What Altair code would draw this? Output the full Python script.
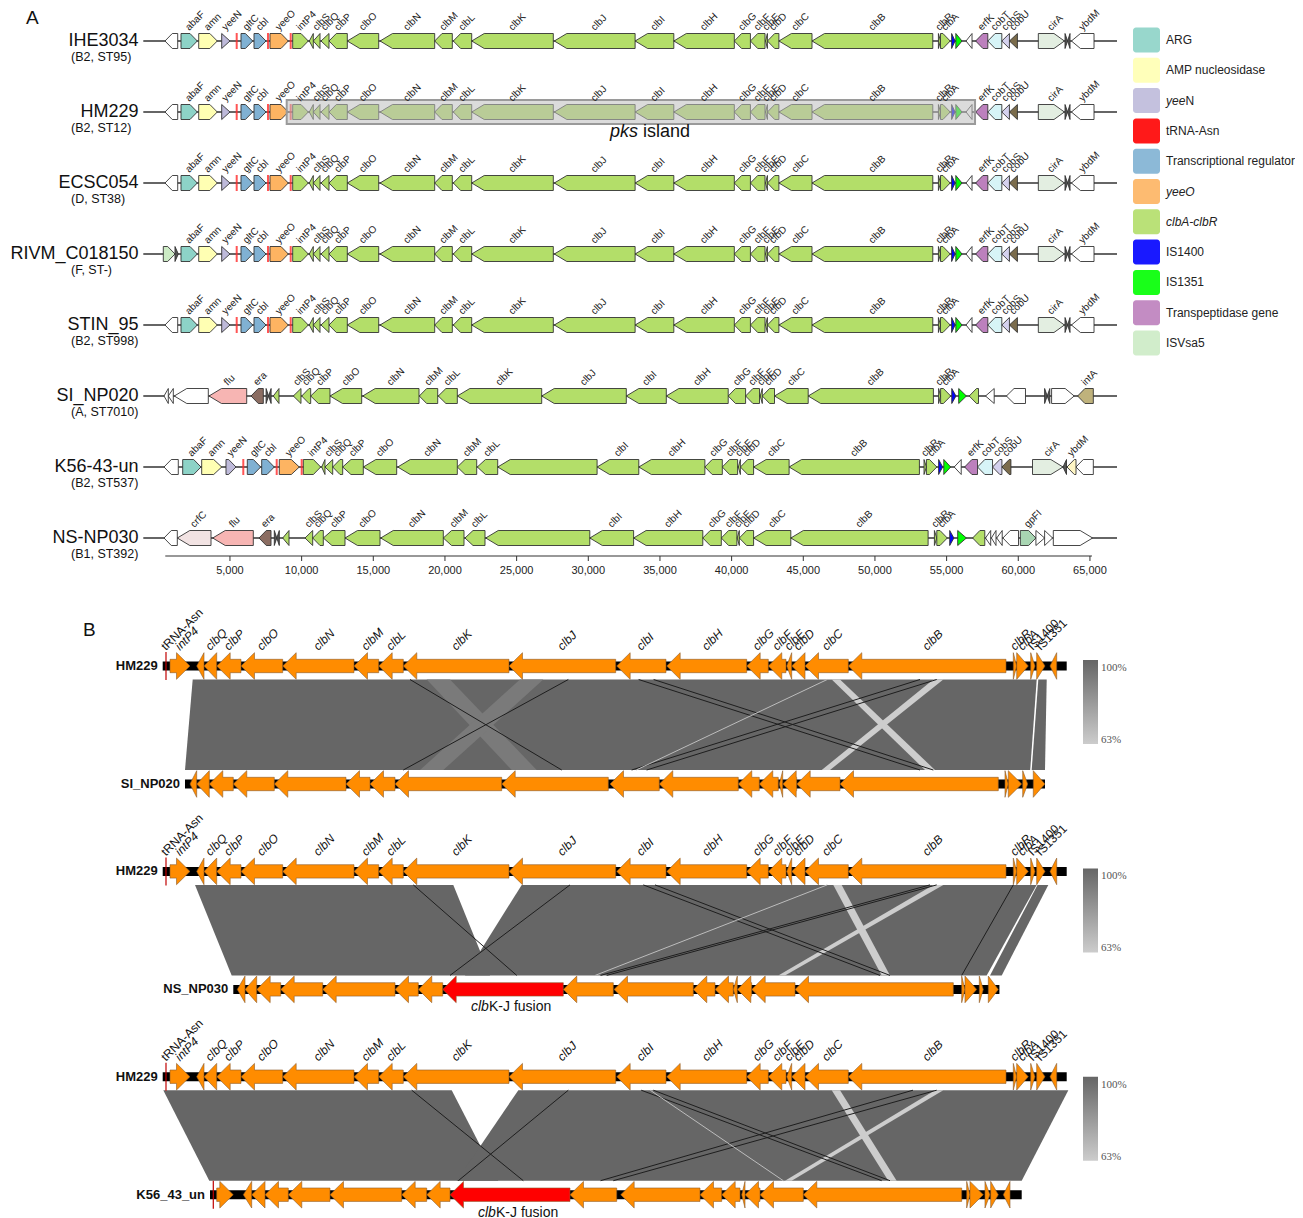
import altair as alt
import pandas as pd

alt.data_transformers.disable_max_rows()

# ===================== DATA : panel A (bp coordinates) =====================
GENOME_NAMES = ["IHE3034", "HM229", "ECSC054", "RIVM_C018150", "STIN_95",
                "SI_NP020", "K56-43-un", "NS-NP030"]
GENOME_TYPES = ["(B2, ST95)", "(B2, ST12)", "(D, ST38)", "(F, ST-)",
                "(B2, ST998)", "(A, ST7010)", "(B2, ST537)", "(B1, ST392)"]

CLB = "clbA-clbR"
TR = "Transcriptional regulator"
TP = "Transpeptidase gene"

# (label, start, end, strand, category)
LEAD_DEFAULT = [("", 467, 1354, "-", "other")]
LEAD_RIVM = [("", 349, 1165, "+", "ISVsa5"), ("", 1165, 1395, "+", "dark")]

PKS_REGION = [
    ("abaF", 1584, 2721, "+", "ARG"), ("amn", 2819, 4116, "+", "AMP nucleosidase"),
    ("yeeN", 4423, 5002, "+", "yeeN"), ("gltC", 5770, 6587, "+", TR),
    ("cbl", 6677, 7514, "+", TR), ("yeeO", 7793, 9070, "+", "yeeO"),
    ("intP4", 9377, 10466, "+", CLB), ("", 10535, 10814, "-", CLB),
    ("clbS", 10814, 11282, "-", CLB), ("clbQ", 11352, 11910, "-", CLB),
    ("clbP", 11910, 13187, "-", CLB), ("clbO", 13187, 15378, "-", CLB),
    ("clbN", 15469, 19284, "-", CLB), ("clbM", 19284, 20512, "-", CLB),
    ("clbL", 20582, 21866, "-", CLB), ("clbK", 21866, 27559, "-", CLB),
    ("clbJ", 27629, 33267, "-", CLB), ("clbI", 33267, 35967, "-", CLB),
    ("clbH", 35967, 40188, "-", CLB), ("clbG", 40188, 41311, "-", CLB),
    ("clbF", 41311, 42330, "-", CLB), ("clbE", 42365, 42497, "-", CLB),
    ("clbD", 42497, 43299, "-", CLB), ("clbC", 43299, 45609, "-", CLB),
    ("clbB", 45609, 54037, "-", CLB), ("clbR", 54428, 54574, "+", CLB),
    ("clbA", 54574, 55251, "+", CLB), ("", 55349, 55593, "+", "IS1400"),
    ("", 55642, 56074, "+", "IS1351"), ("", 56354, 56773, "-", "other"),
    ("erfK", 57024, 57875, "-", TP), ("cobT", 57875, 58852, "-", "cobT"),
    ("cobS", 58852, 59382, "-", "cobS"), ("cobU", 59382, 59940, "-", "cobU"),
    ("cirA", 61398, 63219, "+", "cirA"), ("", 63261, 63440, "+", "dark"),
    ("", 63440, 63610, "-", "dark"), ("ybdM", 63708, 65285, "-", "other"),
]

SI_NP020_REGION = [
    ("", 398, 698, "-", "other"), ("", 698, 1047, "-", "other"),
    ("", 1116, 3489, "-", "other"), ("flu", 3537, 6168, "-", "flu"),
    ("era", 6468, 7326, "-", "era"), ("", 7521, 7696, "+", "dark"),
    ("", 7696, 7870, "-", "dark"), ("", 8023, 8421, "-", CLB),
    ("clbS", 9419, 9956, "-", CLB), ("clbQ", 10005, 10633, "-", CLB),
    ("clbP", 10633, 11979, "-", CLB), ("clbO", 11979, 14191, "-", CLB),
    ("clbN", 14261, 18189, "-", CLB), ("clbM", 18210, 19494, "-", CLB),
    ("clbL", 19536, 20862, "-", CLB), ("clbK", 20862, 26750, "-", CLB),
    ("clbJ", 26750, 32652, "-", CLB), ("clbI", 32652, 35443, "-", CLB),
    ("clbH", 35443, 39762, "-", CLB), ("clbG", 39762, 40976, "-", CLB),
    ("clbF", 40976, 41946, "-", CLB), ("clbE", 41995, 42141, "-", CLB),
    ("clbD", 42141, 42992, "-", CLB), ("clbC", 42992, 45343, "-", CLB),
    ("clbB", 45343, 54078, "-", CLB), ("clbR", 54441, 54581, "+", CLB),
    ("clbA", 54581, 55286, "+", CLB), ("", 55360, 55653, "+", "IS1400"),
    ("", 55844, 56381, "+", "IS1351"), ("", 56576, 57225, "-", CLB),
    ("", 57713, 58320, "-", "other"), ("", 59171, 60503, "-", "other"),
    ("", 61837, 62018, "+", "dark"), ("", 62018, 62200, "-", "dark"),
    ("", 62325, 63902, "+", "other"), ("intA", 64140, 65235, "-", "intA"),
]

K56_REGION = [
    ("", 398, 1395, "-", "other"), ("abaF", 1702, 2979, "+", "ARG"),
    ("amn", 3028, 4423, "+", "AMP nucleosidase"), ("yeeN", 4723, 5421, "+", "yeeN"),
    ("gltC", 6210, 7144, "+", TR), ("cbl", 7214, 8093, "+", TR),
    ("yeeO", 8442, 9838, "+", "yeeO"), ("intP4", 10117, 11330, "+", CLB),
    ("", 11400, 11630, "-", CLB), ("clbS", 11630, 12168, "-", CLB),
    ("clbQ", 12168, 12865, "-", CLB), ("clbP", 12865, 14303, "-", CLB),
    ("clbO", 14303, 16633, "-", CLB), ("clbN", 16703, 20862, "-", CLB),
    ("clbM", 20862, 22215, "-", CLB), ("clbL", 22257, 23680, "-", CLB),
    ("", 23680, 30615, "-", CLB), ("clbI", 30615, 33524, "-", CLB),
    ("clbH", 33524, 38136, "-", CLB), ("clbG", 38136, 39350, "-", CLB),
    ("clbF", 39350, 40418, "-", CLB), ("clbE", 40467, 40613, "-", CLB),
    ("clbD", 40613, 41534, "-", CLB), ("clbC", 41534, 44011, "-", CLB),
    ("clbB", 44011, 53102, "-", CLB), ("clbR", 53424, 53591, "+", CLB),
    ("clbA", 53591, 54317, "+", CLB), ("", 54442, 54728, "+", "IS1400"),
    ("", 54804, 55285, "+", "IS1351"), ("", 55530, 56018, "-", "other"),
    ("erfK", 56256, 57156, "-", TP), ("cobT", 57156, 58203, "-", "cobT"),
    ("cobS", 58203, 58858, "-", "cobS"), ("cobU", 58858, 59486, "-", "cobU"),
    ("cirA", 60993, 63121, "+", "cirA"), ("", 63121, 63365, "-", "dark"),
    ("ybdM", 63400, 64028, "-", "ybdM"), ("", 64028, 65235, "-", "other"),
]

NS_NP030_REGION = [
    ("", 398, 1326, "-", "other"), ("crfC", 1326, 3677, "-", "crfC"),
    ("flu", 3795, 6628, "-", "flu"), ("era", 7026, 7863, "-", "era"),
    ("", 8093, 8268, "+", "dark"), ("", 8268, 8442, "-", "dark"),
    ("", 8679, 9119, "-", CLB), ("clbS", 10235, 10772, "-", CLB),
    ("clbQ", 10772, 11512, "-", CLB), ("clbP", 11512, 13026, "-", CLB),
    ("clbO", 13026, 15468, "-", CLB), ("clbN", 15517, 19884, "-", CLB),
    ("clbM", 19884, 21329, "-", CLB), ("clbL", 21398, 22794, "-", CLB),
    ("", 22843, 30106, "-", CLB), ("clbI", 30106, 33162, "-", CLB),
    ("clbH", 33162, 37990, "-", CLB), ("clbG", 37990, 39281, "-", CLB),
    ("clbF", 39281, 40369, "-", CLB), ("clbE", 40390, 40537, "-", CLB),
    ("clbD", 40537, 41534, "-", CLB), ("clbC", 41534, 44130, "-", CLB),
    ("clbB", 44130, 53709, "-", CLB), ("clbR", 54148, 54316, "+", CLB),
    ("clbA", 54316, 55048, "+", CLB), ("", 55216, 55509, "+", "IS1400"),
    ("", 55774, 56381, "+", "IS1351"), ("", 56813, 57664, "-", CLB),
    ("", 57713, 58076, "-", "other"), ("", 58125, 58446, "-", "other"),
    ("", 58495, 58879, "-", "other"), ("", 58928, 60016, "-", "other"),
    ("gpFI", 60142, 61230, "+", "gpFI"), ("", 61230, 61837, "+", "other"),
    ("", 61837, 62395, "+", "other"), ("", 62444, 65186, "+", "other"),
]

TRNA_STANDARD = [5470, 7654, 9238]
TRNA_K56 = [5930, 8261, 10005]
TRACK_SPAN = (-1047, 66890)
PKS_ISLAND = (8958, 56983)
PKS_LABEL_AT = 31515
AXIS_SPAN = (486, 65139)
AXIS_TICKS = [5000, 10000, 15000, 20000, 25000, 30000, 35000, 40000, 45000,
              50000, 55000, 60000, 65000]

LEGEND_CATS = ["ARG", "AMP nucleosidase", "yeeN", "tRNA-Asn", TR, "yeeO", CLB,
               "IS1400", "IS1351", TP, "ISVsa5"]
LEGEND_COLORS = ["#8dd3c7", "#ffffb3", "#bebada", "#ff0000", "#80b1d3", "#fdb462",
                 "#b3de69", "#0000ff", "#00ff00", "#bc80bd", "#ccebc5"]
LEGEND_ITALIC = ["", "", "yee", "", "", "yeeO", "clbA-clbR", "", "", "", ""]
LEGEND_PLAIN = ["ARG", "AMP nucleosidase", "N", "tRNA-Asn", "Transcriptional regulator",
                "", "", "IS1400", "IS1351", "Transpeptidase gene", "ISVsa5"]
OTHER_CATS = ["other", "dark", "flu", "era", "crfC", "cobT", "cobS", "cobU",
              "intA", "gpFI", "cirA", "ybdM"]
OTHER_COLORS = ["#ffffff", "#555555", "#f7b5b3", "#8b6d62", "#f2e3e3", "#d7f4f7",
                "#d4d1ee", "#7b6c4c", "#bfb27c", "#a8d5b2", "#e3eee1", "#fff6c4"]

# ===================== DATA : panel B (bp along the pks island) =====================
B_HM229 = [
    ("intP4", 390, 1458, "+", "gene"), ("", 1816, 2206, "-", "gene"),
    ("clbQ", 2206, 2885, "-", "gene"), ("clbP", 2885, 4183, "-", "gene"),
    ("clbO", 4183, 6410, "-", "gene"), ("clbN", 6410, 10219, "-", "gene"),
    ("clbM", 10219, 11539, "-", "gene"), ("clbL", 11539, 12853, "-", "gene"),
    ("clbK", 12853, 18499, "-", "gene"), ("clbJ", 18499, 24199, "-", "gene"),
    ("clbI", 24252, 26886, "-", "gene"), ("clbH", 26924, 31197, "-", "gene"),
    ("clbG", 31197, 32351, "-", "gene"), ("clbF", 32351, 33297, "-", "gene"),
    ("clbE", 33334, 33601, "-", "gene"), ("clbD", 33601, 34312, "-", "gene"),
    ("clbC", 34312, 36625, "-", "gene"), ("clbB", 36625, 45049, "-", "gene"),
    ("clbR", 45439, 45621, "+", "gene"), ("clbA", 45621, 46241, "+", "gene"),
    ("IS1400", 46369, 46598, "+", "gene"), ("IS1351", 46689, 47132, "+", "gene"),
    ("", 47399, 47757, "-", "gene"),
]
B_SI_NP020 = [
    ("", 1458, 1816, "-", "gene"), ("", 1816, 2489, "-", "gene"),
    ("", 2489, 3771, "-", "gene"), ("", 3771, 5962, "-", "gene"),
    ("", 5962, 9792, "-", "gene"), ("", 9792, 11074, "-", "gene"),
    ("", 11074, 12410, "-", "gene"), ("", 12410, 18110, "-", "gene"),
    ("", 18110, 23804, "-", "gene"), ("", 23895, 26528, "-", "gene"),
    ("", 26528, 30748, "-", "gene"), ("", 30748, 31870, "-", "gene"),
    ("", 31870, 32885, "-", "gene"), ("", 32939, 33121, "-", "gene"),
    ("", 33121, 33869, "-", "gene"), ("", 33869, 36182, "-", "gene"),
    ("", 36182, 44638, "-", "gene"), ("", 44996, 45172, "+", "gene"),
    ("", 45172, 45888, "+", "gene"), ("", 45942, 46209, "+", "gene"),
    ("", 46507, 47132, "+", "gene"),
]
B_NS_NP030 = [
    ("", 3985, 4396, "-", "gene"), ("", 4396, 5021, "-", "gene"),
    ("", 5021, 6304, "-", "gene"), ("", 6304, 8547, "-", "gene"),
    ("", 8547, 12410, "-", "gene"), ("", 12410, 13654, "-", "gene"),
    ("", 13654, 14958, "-", "gene"), ("", 14958, 21400, "-", "fusion"),
    ("", 21400, 24071, "-", "gene"), ("", 24109, 28345, "-", "gene"),
    ("", 28345, 29504, "-", "gene"), ("", 29504, 30482, "-", "gene"),
    ("", 30482, 30696, "-", "gene"), ("", 30696, 31465, "-", "gene"),
    ("", 31465, 33778, "-", "gene"), ("", 33778, 42234, "-", "gene"),
    ("", 42682, 42858, "+", "gene"), ("", 42858, 43484, "+", "gene"),
    ("", 43623, 43836, "+", "gene"), ("", 44104, 44638, "+", "gene"),
]
B_K56 = [
    ("", 2885, 3771, "+", "gene"), ("", 4306, 4754, "-", "gene"),
    ("", 4754, 5465, "-", "gene"), ("", 5465, 6710, "-", "gene"),
    ("", 6710, 8937, "-", "gene"), ("", 8937, 12767, "-", "gene"),
    ("", 12767, 14103, "-", "gene"), ("", 14103, 15348, "-", "gene"),
    ("", 15348, 21758, "-", "fusion"), ("", 21758, 24253, "-", "gene"),
    ("", 24466, 28703, "-", "gene"), ("", 28703, 29862, "-", "gene"),
    ("", 29862, 30840, "-", "gene"), ("", 30930, 31107, "-", "gene"),
    ("", 31107, 31908, "-", "gene"), ("", 31908, 34221, "-", "gene"),
    ("", 34221, 42682, "-", "gene"), ("", 42949, 43126, "+", "gene"),
    ("", 43126, 43836, "+", "gene"), ("", 43926, 44193, "+", "gene"),
    ("", 44230, 44638, "+", "gene"), ("", 44905, 45263, "-", "gene"),
]
B_NAMES = ["SI_NP020", "NS_NP030", "K56_43_un"]
B_QUERY_GENES = [B_SI_NP020, B_NS_NP030, B_K56]
B_REF_TRACK = (0, 48292)
B_QUERY_TRACKS = [(1191, 47132), (3771, 44697), (2527, 45888)]
B_REF_TRNA = [176]
B_QUERY_TRNA = [[], [], [2703]]

# synteny blocks: (ref start, ref end, query start, query end, identity level)
SYN_BLOCKS = [
    [(1603, 46689, 1191, 46342, "high"), (46775, 47224, 46422, 47132, "high"),
     (14103, 15348, 18644, 19979, "mid"), (19087, 20332, 13745, 14990, "mid"),
     (35739, 36182, 40722, 41256, "low"), (41166, 41700, 35204, 35648, "low")],
    [(1726, 15524, 3686, 17485, "high"), (19178, 46689, 16149, 44018, "high"),
     (46732, 47309, 44195, 44820, "high"),
     (35824, 36272, 38409, 38852, "low"), (41166, 41700, 32885, 33243, "low")],
    [(32, 15439, 2489, 17928, "high"), (18996, 48378, 15706, 45888, "high"),
     (35739, 36182, 38762, 39210, "low"), (41256, 41700, 33243, 33601, "low")],
]
# thin matches: (ref pos, query pos, kind)
SYN_LINES = [
    [(13211, 21315, "dark"), (21668, 12853, "dark"), (25424, 40455, "dark"),
     (26225, 41165, "dark"), (40455, 25050, "dark"), (41347, 25852, "dark"),
     (35500, 25300, "pale")],
    [(45439, 42682, "dark"), (13387, 18911, "dark"), (21758, 15348, "dark"),
     (25674, 38318, "dark"), (26299, 38852, "dark"), (40989, 23390, "dark"),
     (41347, 23718, "dark"), (35500, 23100, "pale")],
    [(13302, 19264, "dark"), (21668, 15791, "dark"), (25561, 38409, "dark"),
     (26208, 38852, "dark"), (40081, 23390, "dark"), (41347, 24071, "dark"),
     (26042, 33153, "pale")],
]
IDENTITY_LABELS = ["100%", "63%"]

# ===================== LAYOUT =====================
W = 1287
HA = 590
HB = 617
A_PX_PER_BP = 0.014333
A_ORIGIN_PX = 150.3
B_PX_PER_BP = 1 / 53.42
B_ORIGIN_PX = 154.7
A_ROW0, A_ROW_STEP = 33, 71
B_REF_ROWS = [68, 273.4, 478.7]
B_PAIR_GAP = 118
FONT = "Liberation Sans"

SX_A = alt.Scale(domain=[-A_ORIGIN_PX / A_PX_PER_BP, (W - A_ORIGIN_PX) / A_PX_PER_BP],
                 nice=False, zero=False)
SY_A = alt.Scale(domain=[0, HA], reverse=True, nice=False, zero=False)
SX_B = alt.Scale(domain=[-B_ORIGIN_PX / B_PX_PER_BP, (W - B_ORIGIN_PX) / B_PX_PER_BP],
                 nice=False, zero=False)
SY_B = alt.Scale(domain=[0, HB], reverse=True, nice=False, zero=False)
COLOR_SCALE = alt.Scale(domain=LEGEND_CATS + OTHER_CATS, range=LEGEND_COLORS + OTHER_COLORS)


def X(f, s):
    return alt.X(f, type="quantitative", scale=s, axis=None)


def Y(f, s, stack=False):
    if stack:
        return alt.Y(f, type="quantitative", scale=s, axis=None, stack=None)
    return alt.Y(f, type="quantitative", scale=s, axis=None)


def pentagon(s, e, strand, ry, h=7.5):
    L = e - s
    lpx = L * A_PX_PER_BP
    head = L if lpx <= 9 else min(12.5, max(7.3, 0.4 * lpx)) / A_PX_PER_BP
    if strand == "+":
        pts = [(s, ry - h, ry + h)]
        if head < L:
            pts.append((e - head, ry - h, ry + h))
        pts.append((e, ry, ry))
    else:
        pts = [(s, ry, ry)]
        if head < L:
            pts.append((s + head, ry - h, ry + h))
        pts.append((e, ry - h, ry + h))
    return pts


def barbed(s, e, strand, ry, h=6.7, H=13.3):
    L = e - s
    head = 13.5 / B_PX_PER_BP
    eps = 1.0
    if L <= head:
        if strand == "+":
            return [(s, ry - H, ry + H), (e, ry, ry)]
        return [(s, ry, ry), (e, ry - H, ry + H)]
    if strand == "+":
        return [(s, ry - h, ry + h), (e - head, ry - h, ry + h),
                (e - head + eps, ry - H, ry + H), (e, ry, ry)]
    return [(s, ry, ry), (s + head - eps, ry - H, ry + H),
            (s + head, ry - h, ry + h), (e, ry - h, ry + h)]


# ===================== PANEL A =====================
ROW_GENES = [LEAD_DEFAULT + PKS_REGION, LEAD_DEFAULT + PKS_REGION,
             LEAD_DEFAULT + PKS_REGION, LEAD_RIVM + PKS_REGION,
             LEAD_DEFAULT + PKS_REGION, SI_NP020_REGION, K56_REGION, NS_NP030_REGION]
ROW_TRNA = [TRNA_STANDARD] * 5 + [[], TRNA_K56, []]

poly_a, lab_a, trna_a, rows_a = [], [], [], []
for i, genes in enumerate(ROW_GENES):
    ry = A_ROW0 + A_ROW_STEP * i
    rows_a.append(dict(name=GENOME_NAMES[i], sub=GENOME_TYPES[i], y=ry, ys=ry + 16,
                       x0=TRACK_SPAN[0], x1=TRACK_SPAN[1]))
    for j, (lab, s, e, strand, cat) in enumerate(genes):
        for k, (x, y0, y1) in enumerate(pentagon(s, e, strand, ry)):
            poly_a.append(dict(gid=f"a{i}_{j}", cat=cat, x=x, y0=y0, y1=y1))
        if lab:
            lab_a.append(dict(label=lab, x=(s + e) / 2, y=ry - 10))
    for t in ROW_TRNA[i]:
        trna_a.append(dict(x=t, y0=ry - 8, y1=ry + 8))

df_rows_a = pd.DataFrame(rows_a)
track_a = alt.Chart(df_rows_a).mark_rule(color="#333333", strokeWidth=1.3).encode(
    x=X("x0", SX_A), x2="x1", y=Y("y", SY_A))
genes_a = alt.Chart(pd.DataFrame(poly_a)).mark_area(
    stroke="#333333", strokeWidth=0.9, opacity=1, interpolate="linear").encode(
    x=X("x", SX_A), y=Y("y0", SY_A, stack=True), y2="y1",
    color=alt.Color("cat:N", scale=COLOR_SCALE, legend=None), detail="gid:N")
trna_layer_a = alt.Chart(pd.DataFrame(trna_a)).mark_rule(
    color="#ff2a2a", strokeWidth=2, opacity=0.8).encode(
    x=X("x", SX_A), y=Y("y0", SY_A), y2="y1")
hm_y = A_ROW0 + A_ROW_STEP * 1
pks_box = alt.Chart(pd.DataFrame([dict(x0=PKS_ISLAND[0], x1=PKS_ISLAND[1],
                                       y0=hm_y - 12, y1=hm_y + 12)])).mark_rect(
    fill="#bdbdbd", fillOpacity=0.55, stroke="#9a9a9a", strokeWidth=2).encode(
    x=X("x0", SX_A), x2="x1", y=Y("y0", SY_A), y2="y1")
pks_df = pd.DataFrame([dict(x=PKS_LABEL_AT, y=hm_y + 20)])
pks_t1 = alt.Chart(pks_df).mark_text(text="pks", fontStyle="italic", fontSize=18,
                                     align="left", baseline="middle", font=FONT,
                                     color="#111").encode(x=X("x", SX_A), y=Y("y", SY_A))
pks_t2 = alt.Chart(pks_df).mark_text(text="island", fontSize=18, dx=33,
                                     align="left", baseline="middle", font=FONT,
                                     color="#111").encode(x=X("x", SX_A), y=Y("y", SY_A))
labels_a = alt.Chart(pd.DataFrame(lab_a)).mark_text(
    angle=315, align="left", baseline="alphabetic", fontSize=10, font=FONT,
    color="#222222").encode(x=X("x", SX_A), y=Y("y", SY_A), text="label:N")
names_a = alt.Chart(df_rows_a).mark_text(
    align="right", baseline="middle", fontSize=18, font=FONT, color="#111").encode(
    x=alt.value(130.5), y=Y("y", SY_A), text="name:N")
subs_a = alt.Chart(df_rows_a).mark_text(
    align="left", baseline="middle", fontSize=12.5, font=FONT, color="#111").encode(
    x=alt.value(63), y=Y("ys", SY_A), text="sub:N")
panel_label_a = alt.Chart(pd.DataFrame([dict(t="A", y=10)])).mark_text(
    fontSize=19, font=FONT, align="left", baseline="middle", color="#111").encode(
    x=alt.value(18), y=Y("y", SY_A), text="t:N")

axis_y = A_ROW0 + A_ROW_STEP * 7 + 18
axis_line = alt.Chart(pd.DataFrame([dict(x0=AXIS_SPAN[0], x1=AXIS_SPAN[1], y=axis_y)])).mark_rule(
    color="#333333", strokeWidth=1.2).encode(x=X("x0", SX_A), x2="x1", y=Y("y", SY_A))
tick_df = pd.DataFrame(dict(x=AXIS_TICKS, lab=[f"{t:,}" for t in AXIS_TICKS],
                            y0=[axis_y] * len(AXIS_TICKS), y1=[axis_y + 5] * len(AXIS_TICKS),
                            yl=[axis_y + 15] * len(AXIS_TICKS)))
axis_ticks = alt.Chart(tick_df).mark_rule(color="#333333", strokeWidth=1).encode(
    x=X("x", SX_A), y=Y("y0", SY_A), y2="y1")
axis_labels = alt.Chart(tick_df).mark_text(fontSize=11, font=FONT, baseline="middle",
                                           color="#222").encode(
    x=X("x", SX_A), y=Y("yl", SY_A), text="lab:N")

leg_rows = []
for i, c in enumerate(LEGEND_CATS):
    yc = 32 + 30.3 * i
    leg_rows.append(dict(cat=c, y=yc, y0=yc - 12.5, y1=yc + 12.5,
                         it=LEGEND_ITALIC[i], pl=LEGEND_PLAIN[i]))
leg_df = pd.DataFrame(leg_rows)
leg_sw = alt.Chart(leg_df).mark_rect(cornerRadius=3, opacity=0.9).encode(
    x=alt.value(1125), x2=alt.value(1152), y=Y("y0", SY_A), y2="y1",
    color=alt.Color("cat:N", scale=COLOR_SCALE, legend=None))
leg_it = alt.Chart(leg_df[leg_df.it != ""]).mark_text(
    align="left", baseline="middle", fontSize=12, fontStyle="italic", font=FONT,
    color="#222").encode(x=alt.value(1158), y=Y("y", SY_A), text="it:N")
leg_pl = alt.Chart(leg_df[(leg_df.pl != "") & (leg_df.it == "")]).mark_text(
    align="left", baseline="middle", fontSize=12, font=FONT, color="#222").encode(
    x=alt.value(1158), y=Y("y", SY_A), text="pl:N")
leg_mix = alt.Chart(leg_df[(leg_df.pl != "") & (leg_df.it != "")]).mark_text(
    align="left", baseline="middle", fontSize=12, font=FONT, color="#222", dx=19.5).encode(
    x=alt.value(1158), y=Y("y", SY_A), text="pl:N")

panel_a = alt.layer(track_a, genes_a, trna_layer_a, pks_box, pks_t1, pks_t2, labels_a,
                    names_a, subs_a, panel_label_a, axis_line, axis_ticks, axis_labels,
                    leg_sw, leg_it, leg_pl, leg_mix).properties(width=W, height=HA)

# ===================== PANEL B =====================
bars_b, poly_b, lab_b, names_b, trna_b, fusion_b = [], [], [], [], [], []
syn_b, lines_b, cbar_b = [], [], []
for c in range(3):
    ry_ref = B_REF_ROWS[c]
    ry_q = ry_ref + B_PAIR_GAP
    tracks = [("HM229", B_REF_TRACK, B_HM229, B_REF_TRNA, ry_ref),
              (B_NAMES[c], B_QUERY_TRACKS[c], B_QUERY_GENES[c], B_QUERY_TRNA[c], ry_q)]
    for r, (nm, span, genes, trnas, ry) in enumerate(tracks):
        bars_b.append(dict(x0=span[0], x1=span[1], y0=ry - 4.5, y1=ry + 4.5))
        names_b.append(dict(name=nm, x=span[0], y=ry))
        for j, (lab, s, e, strand, cat) in enumerate(genes):
            for (x, y0, y1) in barbed(s, e, strand, ry):
                poly_b.append(dict(gid=f"b{c}_{r}_{j}", kind=cat, x=x, y0=y0, y1=y1))
            if lab:
                lab_b.append(dict(label=lab, x=(s + e) / 2, y=ry - 15,
                                  italic=lab.startswith(("clb", "int"))))
            if cat == "fusion":
                fusion_b.append(dict(x=(s + e) / 2, y=ry + 18))
        for t in trnas:
            trna_b.append(dict(x=t, y0=ry - 14, y1=ry + 14))
        if r == 0:
            lab_b.append(dict(label="tRNA-Asn", x=trnas[0], y=ry - 15, italic=False))
    y_top, y_bot = ry_ref + 13.5, ry_q - 14
    for k, (ts, te, qs, qe, lvl) in enumerate(SYN_BLOCKS[c]):
        syn_b.append(dict(gid=f"s{c}_{k}", lvl=lvl, y=y_top, x0=ts, x1=te))
        syn_b.append(dict(gid=f"s{c}_{k}", lvl=lvl, y=y_bot, x0=qs, x1=qe))
    for (t, q, kind) in SYN_LINES[c]:
        lines_b.append(dict(xt=t, xq=q, yt=y_top, yq=y_bot, kind=kind))
    cbar_b.append(dict(y0=ry_ref - 6 + 3 * c, y1=ry_ref + 78 + 3 * c,
                       yh=ry_ref + 2 + 3 * c, yl=ry_ref + 74 + 3 * c))

df_syn = pd.DataFrame(syn_b)
bars = alt.Chart(pd.DataFrame(bars_b)).mark_rect(color="black").encode(
    x=X("x0", SX_B), x2="x1", y=Y("y0", SY_B), y2="y1")


def syn_layer(level, color):
    return alt.Chart(df_syn[df_syn.lvl == level]).mark_area(
        orient="horizontal", color=color, opacity=1, interpolate="linear").encode(
        y=Y("y", SY_B), x=alt.X("x0", type="quantitative", scale=SX_B, axis=None, stack=None),
        x2="x1", detail="gid:N")


syn_high = syn_layer("high", "#666666")
syn_mid = syn_layer("mid", "#7a7a7a")
syn_low = syn_layer("low", "#cdcdcd")
df_lines = pd.DataFrame(lines_b)
lines_dark = alt.Chart(df_lines[df_lines.kind == "dark"]).mark_rule(
    color="#1e1e1e", strokeWidth=1).encode(
    x=X("xt", SX_B), x2="xq", y=Y("yt", SY_B), y2="yq")
lines_pale = alt.Chart(df_lines[df_lines.kind == "pale"]).mark_rule(
    color="#bdbdbd", strokeWidth=1).encode(
    x=X("xt", SX_B), x2="xq", y=Y("yt", SY_B), y2="yq")
genes_b = alt.Chart(pd.DataFrame(poly_b)).mark_area(
    stroke="#8a5a2b", strokeWidth=0.6, opacity=1, interpolate="linear").encode(
    x=X("x", SX_B), y=Y("y0", SY_B, stack=True), y2="y1",
    color=alt.Color("kind:N", scale=alt.Scale(domain=["gene", "fusion"],
                                              range=["#ff8c00", "#ff0000"]), legend=None),
    detail="gid:N")
trna_layer_b = alt.Chart(pd.DataFrame(trna_b)).mark_rule(
    color="#c00000", strokeWidth=1.2).encode(x=X("x", SX_B), y=Y("y0", SY_B), y2="y1")
df_lab_b = pd.DataFrame(lab_b)
labels_b_it = alt.Chart(df_lab_b[df_lab_b.italic]).mark_text(
    angle=315, align="left", baseline="alphabetic", fontSize=12, fontStyle="italic",
    font=FONT, color="#111").encode(x=X("x", SX_B), y=Y("y", SY_B), text="label:N")
labels_b_up = alt.Chart(df_lab_b[~df_lab_b.italic]).mark_text(
    angle=315, align="left", baseline="alphabetic", fontSize=12,
    font=FONT, color="#111").encode(x=X("x", SX_B), y=Y("y", SY_B), text="label:N")
names_layer_b = alt.Chart(pd.DataFrame(names_b)).mark_text(
    align="right", baseline="middle", fontSize=13, fontWeight="bold", font=FONT,
    dx=-5, color="#111").encode(x=X("x", SX_B), y=Y("y", SY_B), text="name:N")
df_fus = pd.DataFrame(fusion_b)
fus_it = alt.Chart(df_fus).mark_text(text="clb", fontStyle="italic", fontSize=14,
                                     align="left", baseline="middle", font=FONT, dx=-32,
                                     color="#111").encode(x=X("x", SX_B), y=Y("y", SY_B))
fus_pl = alt.Chart(df_fus).mark_text(text="K-J fusion", fontSize=14, align="left",
                                     baseline="middle", font=FONT, dx=-14,
                                     color="#111").encode(x=X("x", SX_B), y=Y("y", SY_B))
df_cbar = pd.DataFrame(cbar_b)
cbar = alt.Chart(df_cbar).mark_rect(
    color=alt.LinearGradient(gradient="linear",
                             stops=[alt.GradientStop(color="#666666", offset=0),
                                    alt.GradientStop(color="#cccccc", offset=1)],
                             x1=0, x2=0, y1=0, y2=1)).encode(
    x=alt.value(1075), x2=alt.value(1090), y=Y("y0", SY_B), y2="y1")
cbar_hi = alt.Chart(df_cbar).mark_text(text=IDENTITY_LABELS[0], align="left",
                                       baseline="middle", fontSize=11,
                                       font="Liberation Serif", color="#555").encode(
    x=alt.value(1093), y=Y("yh", SY_B))
cbar_lo = alt.Chart(df_cbar).mark_text(text=IDENTITY_LABELS[1], align="left",
                                       baseline="middle", fontSize=11,
                                       font="Liberation Serif", color="#555").encode(
    x=alt.value(1093), y=Y("yl", SY_B))
panel_label_b = alt.Chart(pd.DataFrame([dict(t="B", y=32)])).mark_text(
    fontSize=19, font=FONT, align="left", baseline="middle", color="#111").encode(
    x=alt.value(75), y=Y("y", SY_B), text="t:N")

panel_b = alt.layer(syn_high, syn_mid, syn_low, lines_dark, lines_pale, bars, genes_b,
                    trna_layer_b, labels_b_it, labels_b_up, names_layer_b, fus_it, fus_pl,
                    cbar, cbar_hi, cbar_lo, panel_label_b).properties(width=W, height=HB)

chart = alt.vconcat(panel_a, panel_b, spacing=0, bounds="flush").resolve_scale(
    color="independent").properties(padding=0).configure_view(stroke=None)

chart.save("out.html", embed_options={"renderer": "svg", "actions": False})
